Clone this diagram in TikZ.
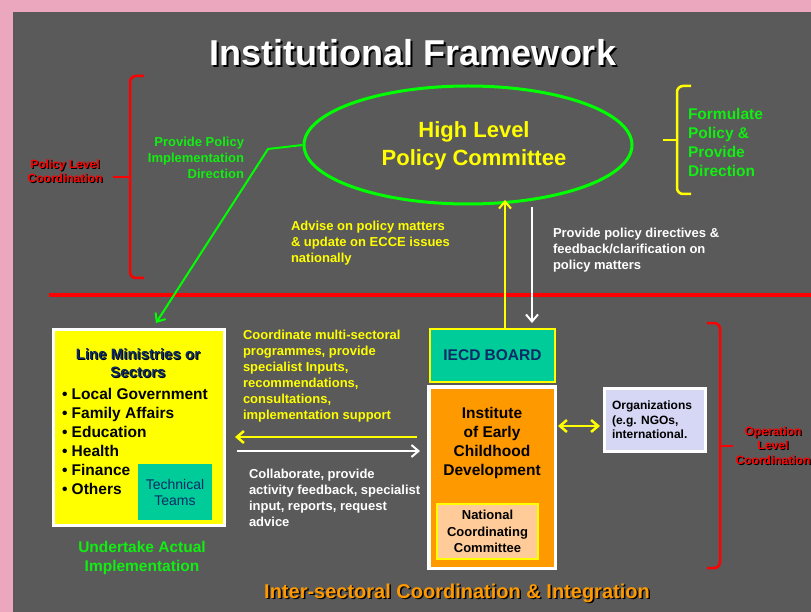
\documentclass[tikz,border=0pt]{standalone}
\usepackage{fontspec}
\setmainfont{Liberation Sans}
\usetikzlibrary{arrows.meta,shapes.geometric}
\definecolor{bggrey}{HTML}{5A5A5A}
\definecolor{pinkbg}{HTML}{EBA7BD}
\definecolor{greenc}{HTML}{00FF00}
\definecolor{gtext}{HTML}{11EE11}
\definecolor{yellowc}{HTML}{FFFF00}
\definecolor{orangec}{HTML}{FF9900}
\definecolor{tealc}{HTML}{00CC99}
\definecolor{navyc}{HTML}{0B2A66}
\definecolor{peachc}{HTML}{FFCC99}
\definecolor{lavc}{HTML}{D6D6F5}
\definecolor{redc}{HTML}{FF0000}
\newcommand\fsb[2]{\fontsize{#1}{#2}\selectfont\bfseries}
\newcommand\fsr[2]{\fontsize{#1}{#2}\selectfont}
% text with a black drop shadow: \shd{colour}{offset}{text}
\newcommand\shd[3]{\makebox[0pt][l]{\kern#2\raisebox{-#2}{\color{black}#3}}{\color{#1}#3}}
\tikzset{
  txt/.style={inner sep=0pt, outer sep=0pt},
  arrowtip/.style={-{Straight Barb[length=7pt,width=12pt]}},
  bracered/.style={draw=redc, line width=2.5pt, rounded corners=6pt},
}
\begin{document}
\begin{tikzpicture}[x=1pt,y=-1pt]
\useasboundingbox (0,0) rectangle (811,612);
\fill[pinkbg] (0,0) rectangle (811,612);
\fill[bggrey] (13,12) rectangle (811,612);

% title
\node[txt, font=\fsb{36}{40}] (title) at (413,54) {\shd{white}{2pt}{Institutional Framework}};

% high level policy committee
\node[draw=greenc, line width=3pt, ellipse, minimum width=328pt, minimum height=118pt, inner sep=0pt] (hlpc) at (468,145) {};
\node[txt, font=\fsb{22}{28}, text=yellowc, align=center] (hltext) at (474,146) {High Level\\Policy Committee};

% left brace
\draw[bracered] (144,76) -- (130,76) -- (130,278) -- (144,278);
\draw[bracered] (113,177) -- (130,177);
\node[txt, font=\fsb{12}{14}, align=center] (plc) at (65,172) {\shd{redc}{1.3pt}{Policy Level}\\\shd{redc}{1.3pt}{Coordination}};

\node[txt, font=\fsb{13}{16}, text=gtext, align=right, anchor=east] (ppid) at (244,158) {Provide Policy\\Implementation\\Direction};

% right yellow brace
\draw[draw=yellowc, line width=2.5pt, rounded corners=6pt] (691,86) -- (677,86) -- (677,194) -- (691,194);
\draw[draw=yellowc, line width=2.5pt] (663,140) -- (677,140);
\node[txt, font=\fsb{15.5}{19}, text=gtext, align=left, anchor=west] (fppd) at (688,142) {Formulate\\Policy \&\\Provide\\Direction};

% middle texts
\node[txt, font=\fsb{13}{16}, text=yellowc, align=left, anchor=west] (advise) at (291,243) {Advise on policy matters\\\& update on ECCE issues\\nationally};
\node[txt, font=\fsb{13}{16}, text=white, align=left, anchor=west] (directives) at (553,250) {Provide policy directives \&\\feedback/clarification on\\policy matters};

% red divider
\coordinate (rl1) at (49,295);
\coordinate (rl2) at (811,295);
\draw[redc, line width=3.5pt] (rl1) -- (rl2);

% line ministries box
\node[draw=white, line width=3pt, fill=yellowc, minimum width=171pt, minimum height=196pt, inner sep=0pt] (lm) at (139,427.5) {};
\node[txt, font=\fsb{15}{18}, align=center] (lmt) at (138,364) {\shd{navyc}{1pt}{Line Ministries or}\\\shd{navyc}{1pt}{Sectors}};
\node[txt, font=\fsb{15.5}{19}, text=black, align=left, anchor=west] (lmlist) at (62,441) {• Local Government\\• Family Affairs\\• Education\\• Health\\• Finance\\• Others};
\node[fill=tealc, minimum width=74pt, minimum height=56pt, inner sep=0pt, font=\fsr{14}{16}, text=navyc, align=center] (tt) at (175,492) {Technical\\Teams};
\node[txt, font=\fsb{15.5}{19}, text=gtext, align=center] (uai) at (142,558) {Undertake Actual\\Implementation};

% green connector
\coordinate (gbend) at (268,149);
\coordinate (gtip) at (156,323);
\draw[greenc, line width=2pt, arrowtip] (hlpc.west) -- (gbend) -- (gtip);

% coordinate text
\node[txt, font=\fsb{13}{16}, text=yellowc, align=left, anchor=west] (coord) at (243,376) {Coordinate multi-sectoral\\programmes, provide\\specialist Inputs,\\recommendations,\\consultations,\\implementation support};
\node[txt, font=\fsb{13}{16}, text=white, align=left, anchor=west] (collab) at (249,498) {Collaborate, provide\\activity feedback, specialist\\input, reports, request\\advice};

% IECD board
\node[draw=yellowc, line width=2pt, fill=tealc, minimum width=125pt, minimum height=53pt, inner sep=0pt, font=\fsb{15.5}{18}, text=navyc] (iecd) at (492.5,355.5) {IECD BOARD};

% institute
\node[draw=white, line width=3.5pt, fill=orangec, minimum width=126.5pt, minimum height=181.5pt, inner sep=0pt] (inst) at (492,477.5) {};
\node[txt, font=\fsb{15.5}{19}, text=black, align=center] (instt) at (492,443) {Institute\\of Early\\Childhood\\Development};
\node[draw=yellowc, line width=2.5pt, fill=peachc, minimum width=101pt, minimum height=55pt, inner sep=0pt, font=\fsb{13}{16.5}, text=black, align=center] (ncc) at (487.5,531.5) {National\\Coordinating\\Committee};

% organizations
\node[draw=white, line width=3pt, fill=lavc, minimum width=101pt, minimum height=63pt, inner sep=0pt] (org) at (655,420) {};
\node[txt, font=\fsb{12}{14.5}, text=black, align=left, anchor=west] (orgt) at (612,420) {Organizations\\(e.g. NGOs,\\international.};

% vertical arrows
\coordinate (ya) at (505,200);
\coordinate (wa) at (532,207);
\draw[yellowc, line width=2pt, arrowtip] (ya |- iecd.north) -- (ya);
\draw[white, line width=2pt, arrowtip, shorten >=5pt] (wa) -- (wa |- iecd.north);

% horizontal arrows
\coordinate (hy) at (330,437);
\coordinate (hw) at (330,451);
\draw[yellowc, line width=2.5pt, arrowtip, shorten <=10pt, shorten >=9pt] (inst.west |- hy) -- (lm.east |- hy);
\draw[white, line width=2pt, arrowtip, shorten <=11pt, shorten >=7pt] (lm.east |- hw) -- (inst.west |- hw);

% double arrow
\coordinate (da) at (580,426);
\draw[yellowc, line width=2.5pt, {Straight Barb[length=7pt,width=12pt]}-{Straight Barb[length=7pt,width=12pt]}, shorten <=1pt, shorten >=3pt] (inst.east |- da) -- (org.west |- da);

% right red brace
\draw[bracered] (707,323) -- (720,323) -- (720,568) -- (707,568);
\draw[bracered] (733,446) -- (720,446);
\node[txt, font=\fsb{12}{14.5}, align=center] (olc) at (773,446) {\shd{redc}{1.3pt}{Operation}\\\shd{redc}{1.3pt}{Level}\\\shd{redc}{1.3pt}{Coordination}};

% bottom text
\node[txt, font=\fsb{20}{24}] (ici) at (457,594) {\shd{orangec}{1.5pt}{Inter-sectoral Coordination \& Integration}};
\end{tikzpicture}
\end{document}
